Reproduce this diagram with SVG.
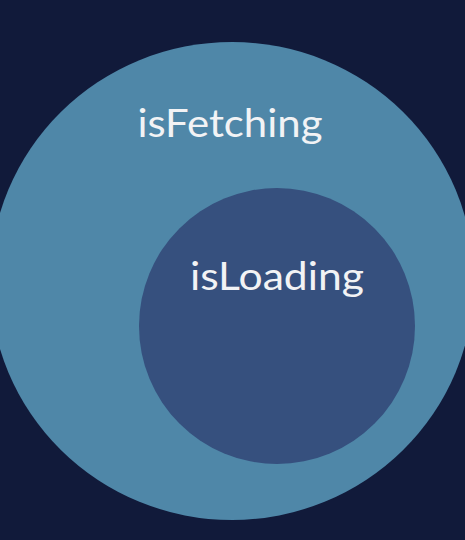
<svg xmlns="http://www.w3.org/2000/svg" width="465" height="540" viewBox="0 0 465 540">
<style>
.lbl{font-family:Lato,"Open Sans","Liberation Sans",sans-serif;font-size:38px;fill:#f2f3f5;text-anchor:middle}
</style>
<rect x="0" y="0" width="465" height="540" fill="#111a3a"/>
<g id="isFetching">
<ellipse cx="232" cy="281" rx="242" ry="239" fill="#4f87a8"/>
<text class="lbl" x="230" y="137" textLength="185" lengthAdjust="spacingAndGlyphs">isFetching</text>
</g>
<g id="isLoading">
<circle cx="277" cy="326" r="138" fill="#36507e"/>
<text class="lbl" x="277" y="290" textLength="174" lengthAdjust="spacingAndGlyphs">isLoading</text>
</g>
<g id="connectors"/>
</svg>
